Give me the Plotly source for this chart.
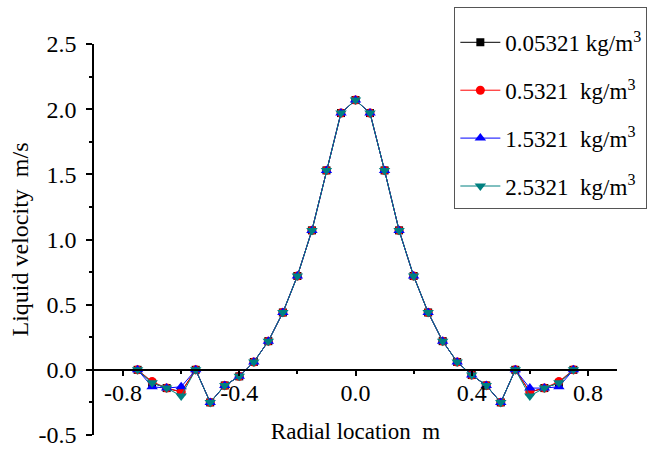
import plotly.graph_objects as go

radial = [-0.75, -0.70, -0.65, -0.60, -0.55, -0.50, -0.45, -0.40, -0.35, -0.30,
          -0.25, -0.20, -0.15, -0.10, -0.05, 0.00, 0.05, 0.10, 0.15, 0.20,
          0.25, 0.30, 0.35, 0.40, 0.45, 0.50, 0.55, 0.60, 0.65, 0.70, 0.75]

v_005321 = [0.0, -0.10, -0.14, -0.17, 0.0, -0.25, -0.12, -0.05, 0.06, 0.22,
            0.44, 0.72, 1.07, 1.53, 1.97, 2.07, 1.97, 1.53, 1.07, 0.72,
            0.44, 0.22, 0.06, -0.04, -0.12, -0.25, 0.0, -0.17, -0.14, -0.10, 0.0]
v_05321 = [0.0, -0.09, -0.14, -0.17, 0.0, -0.25, -0.12, -0.05, 0.06, 0.22,
           0.44, 0.72, 1.07, 1.53, 1.97, 2.07, 1.97, 1.53, 1.07, 0.72,
           0.44, 0.22, 0.06, -0.04, -0.12, -0.25, 0.0, -0.17, -0.14, -0.09, 0.0]
v_15321 = [0.0, -0.13, -0.14, -0.13, 0.0, -0.25, -0.12, -0.05, 0.06, 0.22,
           0.44, 0.72, 1.07, 1.53, 1.97, 2.07, 1.97, 1.53, 1.07, 0.72,
           0.44, 0.22, 0.06, -0.04, -0.12, -0.25, 0.0, -0.14, -0.14, -0.13, 0.0]
v_25321 = [0.0, -0.10, -0.14, -0.20, 0.0, -0.25, -0.12, -0.05, 0.06, 0.22,
           0.44, 0.72, 1.07, 1.53, 1.97, 2.07, 1.97, 1.53, 1.07, 0.72,
           0.44, 0.22, 0.06, -0.04, -0.12, -0.25, 0.0, -0.20, -0.14, -0.10, 0.0]

series_names = ["0.05321 kg/m<sup>3</sup>", "0.5321  kg/m<sup>3</sup>",
                "1.5321  kg/m<sup>3</sup>", "2.5321  kg/m<sup>3</sup>"]
series_values = [v_005321, v_05321, v_15321, v_25321]

x_tickvals = [-0.8, -0.4, 0.0, 0.4, 0.8]
x_ticktext = ["-0.8", "-0.4", "0.0", "0.4", "0.8"]
y_tickvals = [-0.5, 0.0, 0.5, 1.0, 1.5, 2.0, 2.5]
y_ticktext = ["-0.5", "0.0", "0.5", "1.0", "1.5", "2.0", "2.5"]

colors = ["#000000", "#ff0000", "#0000ff", "#008080"]
symbols = ["square", "circle", "triangle-up", "triangle-down"]
sizes = [8, 9, 10, 10]

FONT = "Liberation Serif, Times New Roman, serif"

fig = go.Figure()
for i, (name, vals) in enumerate(zip(series_names, series_values)):
    fig.add_trace(go.Scatter(
        x=radial, y=vals, name=name, mode="lines+markers",
        line=dict(color=colors[i], width=1),
        marker=dict(symbol=symbols[i], size=sizes[i], color=colors[i]),
        legendgroup=f"g{i}",
    ))

fig.update_layout(
    width=647, height=449,
    margin=dict(l=94, r=30, t=44, b=14, autoexpand=False),
    paper_bgcolor="white", plot_bgcolor="white",
    font=dict(family=FONT, size=22, color="black"),
    legend=dict(
        x=0.689, y=1.095, xanchor="left", yanchor="top",
        bordercolor="#555555", borderwidth=1, bgcolor="white",
        font=dict(family=FONT, size=23, color="black"),
        tracegroupgap=15, traceorder="grouped", itemwidth=40,
        title=dict(text=" ", font=dict(size=10)),
    ),
    xaxis=dict(
        range=[-0.9, 0.9], anchor="free", position=1/6,
        tickvals=x_tickvals, ticktext=x_ticktext,
        ticks="outside", ticklen=5, tickwidth=1.5, tickcolor="black",
        minor=dict(dtick=0.2, tick0=0, ticks="outside", ticklen=3, tickcolor="black", tickwidth=1.5),
        showline=True, linecolor="black", linewidth=1.5,
        showgrid=False, zeroline=False,
        tickfont=dict(family=FONT, size=24),
        ticklabelstandoff=-3,
        title=dict(text="Radial location  m", font=dict(family=FONT, size=23), standoff=17),
    ),
    yaxis=dict(
        range=[-0.5, 2.5],
        tickvals=y_tickvals, ticktext=y_ticktext,
        ticks="outside", ticklen=6, tickwidth=1.5, tickcolor="black",
        minor=dict(dtick=0.25, tick0=0, ticks="outside", ticklen=3, tickcolor="black", tickwidth=1.5),
        showline=True, linecolor="black", linewidth=1.5,
        showgrid=False, zeroline=False,
        tickfont=dict(family=FONT, size=24),
        ticklabelstandoff=5,
        title=dict(text="Liquid velocity  m/s", font=dict(family=FONT, size=24), standoff=3),
    ),
)

fig.write_html("out.html")
